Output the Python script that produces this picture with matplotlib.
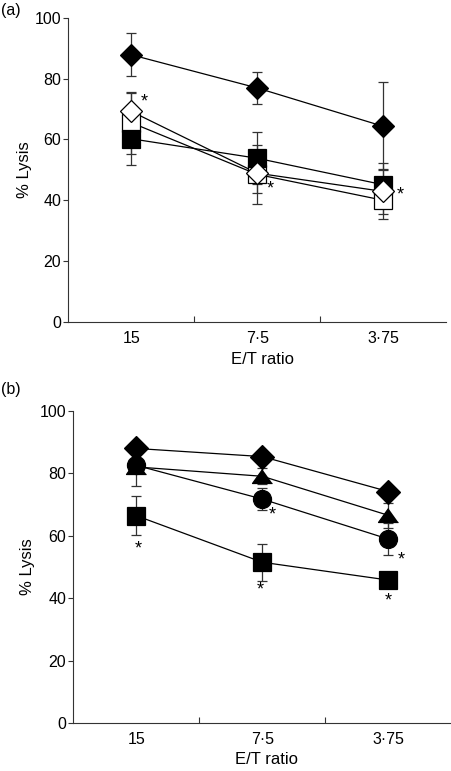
import matplotlib.pyplot as plt

plt.rcParams['font.family'] = ['Liberation Sans', 'DejaVu Sans']

# E/T ratios on the x axis
ratios = ['15', '7·5', '3·75']

# panel (a): means and error bars (% lysis)
a_filled_diamond = [87.8, 76.9, 64.3]
a_filled_diamond_err = [7.0, 5.2, 14.4]
a_open_square = [65.5, 48.5, 40.0]
a_open_square_err = [10.2, 9.7, 6.0]
a_filled_square = [60.2, 53.8, 45.1]
a_filled_square_err = [8.6, 8.5, 7.3]
a_open_diamond = [69.2, 48.9, 42.9]
a_open_diamond_err = [6.0, 6.4, 7.5]

# panel (b)
b_diamond = [87.9, 85.3, 74.1]
b_diamond_err = [1.5, 1.5, 1.5]
b_triangle = [82.0, 79.0, 66.5]
b_triangle_err = [6.0, 2.5, 3.9]
b_circle = [82.5, 71.7, 58.9]
b_circle_err = [2.5, 3.5, 5.1]
b_square = [66.4, 51.5, 45.8]
b_square_err = [6.2, 6.0, 1.5]

# (values, errors, marker, size, face) in drawing order
tri = [(0, 0.7), (-1, -0.7), (1, -0.7)]
series_a = [
    (a_open_square, a_open_square_err, 's', 12.8, 'white'),
    (a_filled_square, a_filled_square_err, 's', 12.8, 'black'),
    (a_filled_diamond, a_filled_diamond_err, 'D', 11.6, 'black'),
    (a_open_diamond, a_open_diamond_err, 'D', 11.6, 'white'),
]
series_b = [
    (b_square, b_square_err, 's', 12.7, 'black'),
    (b_circle, b_circle_err, 'o', 13.0, 'black'),
    (b_triangle, b_triangle_err, tri, 14.4, 'black'),
    (b_diamond, b_diamond_err, 'D', 11.9, 'black'),
]

# significance stars: (series index, point index, dx px, dy px)
stars_a = [(3, 0, 12.7, 12.7), (3, 1, 13.3, -12.7), (3, 2, 16.7, -1.0)]
stars_b = [(0, 0, 1.6, -30.3), (1, 1, 10.0, -13.3), (0, 1, -2.0, -25.0),
           (1, 2, 12.7, -18.3), (0, 2, 0.0, -17.7)]

fig = plt.figure(figsize=(4.52, 7.71), dpi=100)
ax_a = fig.add_axes([0.151, 0.5824, 0.836, 0.3947])
ax_b = fig.add_axes([0.162, 0.0619, 0.837, 0.4055])

spine_col = '#333333'
x = list(range(len(ratios)))


def draw(ax, series, stars, xlab_pos, ylab_pos):
    for vals, errs, mk, ms, face in series:
        ax.errorbar(x, vals, yerr=errs, fmt='none', ecolor=spine_col,
                    elinewidth=0.9, capsize=3.6, capthick=0.9, zorder=1.5)
        ax.plot(x, vals, '-', color='black', lw=0.9, zorder=2)
    for i, (vals, errs, mk, ms, face) in enumerate(series):
        ax.plot(x, vals, linestyle='none', marker=mk, ms=ms, mfc=face,
                mec='black', mew=0.9, zorder=3 + i)
    for si, pi, dx, dy in stars:
        ax.annotate('*', xy=(x[pi], series[si][0][pi]), xytext=(dx, dy - 3),
                    textcoords='offset pixels', ha='center', va='center',
                    fontsize=13, zorder=10)

    ax.set_xlim(-0.5, 2.5)
    ax.set_ylim(0, 100)
    ax.set_yticks([0, 20, 40, 60, 80, 100])
    ax.set_xticks([0.5, 1.5])
    ax.set_xticklabels([])
    ax.set_xticks(x, minor=True)
    ax.set_xticklabels(ratios, minor=True)
    ax.tick_params(axis='x', which='major', direction='in', length=4.3,
                   width=0.8, color=spine_col)
    ax.tick_params(axis='x', which='minor', length=0, pad=6.5, labelsize=11.5)
    ax.tick_params(axis='y', direction='out', length=3.5, width=0.8,
                   color=spine_col, pad=1.5, labelsize=11.5)
    for s in ['top', 'right']:
        ax.spines[s].set_visible(False)
    for s in ['left', 'bottom']:
        ax.spines[s].set_linewidth(0.8)
        ax.spines[s].set_color(spine_col)
    ax.set_xlabel('E/T ratio', fontsize=12)
    ax.set_ylabel('% Lysis', fontsize=12)
    ax.xaxis.set_label_coords(*xlab_pos)
    ax.yaxis.set_label_coords(*ylab_pos)


draw(ax_a, series_a, stars_a, (0.515, -0.098), (-0.097, 0.5))
draw(ax_b, series_b, stars_b, (0.511, -0.093), (-0.101, 0.5))

fig.text(0.003, 1 - 3 / 771, '(a)', ha='left', va='top', fontsize=11.5)
fig.text(0.003, 1 - 382 / 771, '(b)', ha='left', va='top', fontsize=11.5)

fig.savefig('out.png', dpi=100)
